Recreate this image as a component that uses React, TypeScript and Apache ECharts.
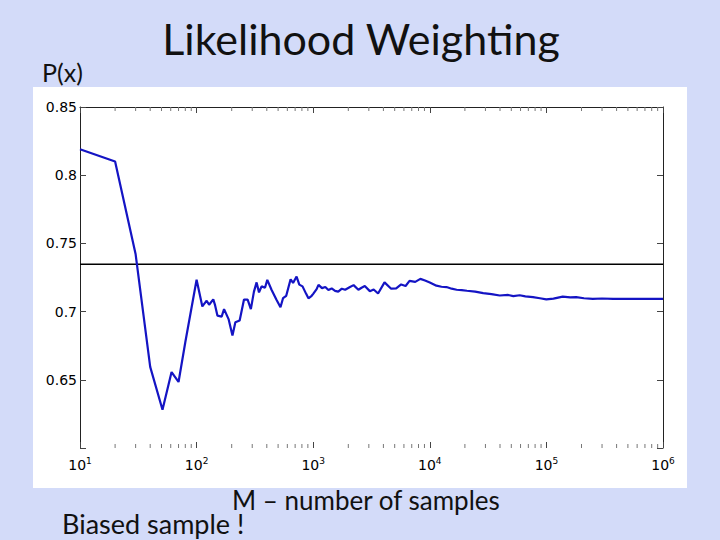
import React, { useEffect, useRef } from "react";
import * as echarts from "echarts";

// ---- data ----
const samplesM = [
  10, 20, 30, 40, 51, 61, 70, 80, 100, 112, 122, 128, 139, 144, 151, 164, 172, 188, 203, 215,
  234, 255, 274, 292, 310, 327, 343, 361, 386, 404, 439, 483, 524, 551, 587, 640, 672, 720,
  760, 810, 870, 910, 970, 1000, 1070, 1110, 1190, 1270, 1350, 1440, 1540, 1640, 1760, 1880,
  2050, 2220, 2440, 2600, 2770, 3060, 3300, 3600, 4090, 4660, 5150, 5680, 6200, 6700, 7500,
  8300, 9100, 10000, 11400, 12600, 13900, 15400, 17000, 18800, 20800, 24500, 28700, 33800,
  39800, 47000, 52000, 59000, 66000, 76700, 88000, 99800, 115000, 138000, 160000, 180000,
  210000, 250000, 300000, 373000, 450000, 542000, 700000, 1000000,
];
const probEstimate = [
  0.819, 0.81, 0.742, 0.6595, 0.628, 0.6557, 0.6484, 0.6775, 0.7233, 0.7038, 0.708, 0.705,
  0.709, 0.7047, 0.697, 0.6963, 0.7018, 0.6945, 0.6824, 0.6922, 0.6935, 0.7088, 0.7088,
  0.7018, 0.7145, 0.7214, 0.7141, 0.7185, 0.7175, 0.7233, 0.716, 0.7088, 0.7032, 0.7098,
  0.7116, 0.7237, 0.721, 0.7257, 0.7198, 0.7185, 0.713, 0.7097, 0.7116, 0.713, 0.7165,
  0.7196, 0.7172, 0.718, 0.7158, 0.717, 0.7152, 0.7146, 0.7168, 0.716, 0.7178, 0.7194,
  0.716, 0.7175, 0.7187, 0.715, 0.7162, 0.7133, 0.7214, 0.7168, 0.717, 0.7199, 0.7188,
  0.7225, 0.7218, 0.724, 0.7228, 0.7214, 0.719, 0.7182, 0.718, 0.7168, 0.716, 0.7158,
  0.7153, 0.7146, 0.7135, 0.7128, 0.7118, 0.7122, 0.7114, 0.712, 0.7112, 0.7106, 0.7098,
  0.709, 0.7095, 0.711, 0.7104, 0.7106, 0.7098, 0.7094, 0.7096, 0.7094, 0.7093, 0.7094,
  0.7093, 0.7094,
];
const trueProbability = 0.7347;
const xRange = [10, 1000000];
const yRange = [0.6, 0.85];
const yInterval = 0.05;
const decades = [10, 100, 1000, 10000, 100000];
const minorMultipliers = [2, 3, 4, 5, 6, 7, 8, 9];

const titleText = "Likelihood Weighting";
const yTitleText = "P(x)";
const xTitleText = "M \u2013 number of samples";
const noteText = "Biased sample !";

export default function App() {
  const ref = useRef<HTMLDivElement>(null);

  useEffect(() => {
    if (!ref.current) return;
    const chart = echarts.init(ref.current, null, { renderer: "svg" });

    const lineData = samplesM.map((m, i) => [m, probEstimate[i]]);
    const trueData = [
      [xRange[0], trueProbability],
      [xRange[1], trueProbability],
    ];
    const minorTicks: number[][] = [];
    decades.forEach((d) => minorMultipliers.forEach((k) => minorTicks.push([d * k, yRange[0]])));

    const tickColor = "#444";
    const labelFont = "DejaVu Sans";

    chart.setOption({
      animation: false,
      backgroundColor: "#d3dbf9",
      grid: { left: 80, right: 57, top: 107, bottom: 92, containLabel: false },
      xAxis: [
        {
          type: "log",
          logBase: 10,
          min: xRange[0],
          max: xRange[1],
          position: "bottom",
          axisLine: { show: false },
          axisTick: { show: true, inside: true, length: 6, lineStyle: { color: tickColor, width: 1 } },
          splitLine: { show: false },
          axisLabel: {
            margin: 8,
            color: "#000",
            fontFamily: labelFont,
            formatter: (v: number) => `{b|10}{s|${Math.round(Math.log10(v))}}`,
            rich: {
              b: { fontSize: 14, fontFamily: labelFont, color: "#000" },
              s: { fontSize: 9, fontFamily: labelFont, color: "#000", padding: [0, 0, 9, 0] },
            },
          },
        },
        {
          type: "log",
          logBase: 10,
          min: xRange[0],
          max: xRange[1],
          position: "top",
          axisLine: { show: true, lineStyle: { color: "#222", width: 1 } },
          axisTick: { show: true, inside: true, length: 6, lineStyle: { color: tickColor, width: 1 } },
          axisLabel: { show: false },
          splitLine: { show: false },
        },
      ],
      yAxis: [
        {
          type: "value",
          min: yRange[0],
          max: yRange[1],
          interval: yInterval,
          position: "left",
          axisLine: { show: true, lineStyle: { color: "#222", width: 1 } },
          axisTick: { show: true, inside: true, length: 6, lineStyle: { color: tickColor, width: 1 } },
          splitLine: { show: false },
          axisLabel: {
            margin: 3,
            color: "#000",
            fontSize: 14,
            fontFamily: labelFont,
            formatter: (v: number) => (v < yRange[0] + 0.001 ? "" : String(parseFloat(v.toFixed(2)))),
          },
        },
        {
          type: "value",
          min: yRange[0],
          max: yRange[1],
          interval: yInterval,
          position: "right",
          axisLine: { show: true, lineStyle: { color: "#222", width: 1 } },
          axisTick: { show: true, inside: true, length: 6, lineStyle: { color: tickColor, width: 1 } },
          splitLine: { show: false },
          axisLabel: { show: false },
        },
      ],
      series: [
        {
          type: "custom",
          xAxisIndex: 0,
          yAxisIndex: 0,
          silent: true,
          clip: false,
          data: minorTicks,
          renderItem: (_params: any, api: any) => {
            const bottom = api.coord([api.value(0), yRange[0]]);
            const top = api.coord([api.value(0), yRange[1]]);
            const style = { stroke: "#777", lineWidth: 1 };
            return {
              type: "group",
              children: [
                { type: "line", shape: { x1: bottom[0], y1: bottom[1], x2: bottom[0], y2: bottom[1] - 4 }, style },
                { type: "line", shape: { x1: top[0], y1: top[1], x2: top[0], y2: top[1] + 4 }, style },
              ],
            };
          },
        },
        {
          type: "line",
          name: "true",
          data: trueData,
          showSymbol: false,
          lineStyle: { color: "#000", width: 1.6 },
          silent: true,
        },
        {
          type: "line",
          name: "estimate",
          data: lineData,
          showSymbol: false,
          lineStyle: { color: "#1414c4", width: 2.2 },
          silent: true,
        },
      ],
      graphic: [
        {
          type: "rect",
          z: -10,
          shape: { x: 33, y: 87, width: 654, height: 401 },
          style: { fill: "#ffffff" },
          silent: true,
        },
        {
          type: "text",
          x: 361,
          y: 38,
          style: {
            text: titleText,
            font: "43px Lato",
            fill: "#111",
            align: "center",
            verticalAlign: "middle",
          },
        },
        {
          type: "text",
          x: 42,
          y: 72,
          style: { text: yTitleText, font: "25px Lato", fill: "#111", align: "left", verticalAlign: "middle" },
        },
        {
          type: "text",
          x: 232,
          y: 500,
          style: { text: xTitleText, font: "26px Lato", fill: "#111", align: "left", verticalAlign: "middle" },
        },
        {
          type: "text",
          x: 62,
          y: 523,
          style: { text: noteText, font: "27px Lato", fill: "#111", align: "left", verticalAlign: "middle" },
        },
      ],
    });

    return () => chart.dispose();
  }, []);

  return (
    <div
      ref={ref}
      style={{ position: "fixed", left: 0, top: 0, width: 720, height: 540 }}
    />
  );
}
